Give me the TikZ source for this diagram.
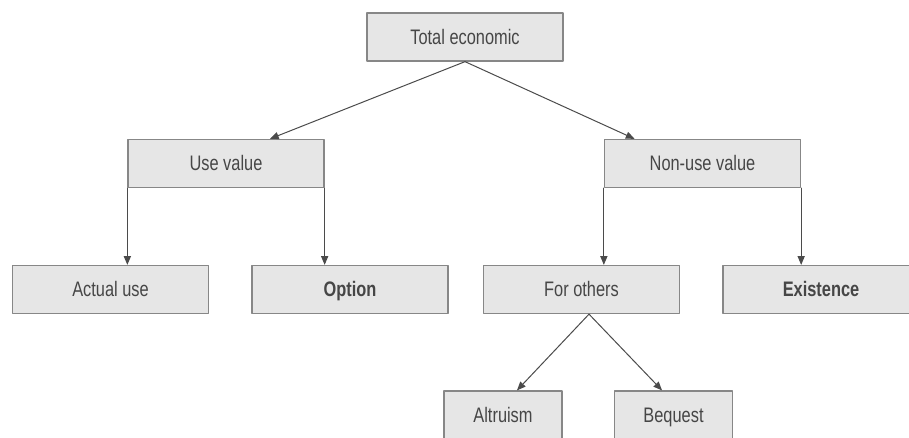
\documentclass[tikz,border=0pt]{standalone}
\usepackage{fontspec}
\setmainfont{Liberation Sans}[FakeStretch=0.78]
\usepackage{xcolor}
\usepackage{tikz}
\usetikzlibrary{arrows.meta,arrows}
\definecolor{boxfill}{RGB}{230,230,230}
\definecolor{boxline}{RGB}{135,135,135}
\definecolor{txtgray}{RGB}{70,70,70}
\definecolor{arrgray}{RGB}{75,75,75}

\begin{document}
\begin{tikzpicture}[line cap=round,line join=round,>=triangle 45,x=1pt,y=1pt,
  box/.style={draw=boxline,fill=boxfill,line width=1.3pt,minimum width=196pt,minimum height=48pt,
    inner sep=0pt,text height=19pt,text depth=4pt,text=txtgray,font=\fontsize{21}{24}\selectfont},
  sbox/.style={box,minimum width=118pt},
  arr/.style={->,draw=arrgray,line width=1pt}]
\useasboundingbox (0,0) rectangle (909,438);
\clip (0,0) rectangle (909,438);
\node[box] (tot) at (465,401) {Total economic};
\node[box] (use) at (226,274.5) {Use value};
\node[box] (nonuse) at (702.5,274.5) {Non-use value};
\node[box] (actual) at (110.5,148.5) {Actual use};
\node[box] (option) at (350,148.5) {\bfseries Option};
\node[box] (others) at (581.5,148.5) {For others};
\node[box] (exist) at (821,148.5) {\bfseries Existence};
\node[sbox] (altru) at (503,23) {Altruism};
\node[sbox] (beq) at (673.5,23) {Bequest};
\draw[arr] (tot.south) -- ([xshift=44pt]use.north);
\draw[arr] (tot.south) -- ([xshift=-68pt]nonuse.north);
\draw[arr] (use.south west) -- (use.south west |- actual.north);
\draw[arr] (use.south east) -- (use.south east |- option.north);
\draw[arr] (nonuse.south west) -- (nonuse.south west |- others.north);
\draw[arr] (nonuse.south east) -- (nonuse.south east |- exist.north);
\draw[arr] ([xshift=7.5pt]others.south) -- ([xshift=14pt]altru.north);
\draw[arr] ([xshift=7.5pt]others.south) -- ([xshift=-11.5pt]beq.north);
\end{tikzpicture}
\end{document}
